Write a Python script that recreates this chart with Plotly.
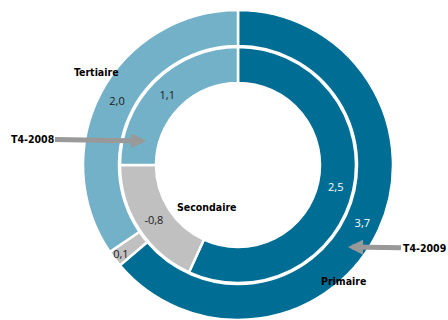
import plotly.graph_objects as go

categories = ["Primaire", "Secondaire", "Tertiaire"]
values_2009 = [3.7, 0.1, 2.0]
values_2008 = [2.5, -0.8, 1.1]
ring_names = ["T4-2009", "T4-2008"]

colors = ["#006e94", "#c0c0c0", "#72b1c8"]
text_colors = ["white", "#1a1a1a", "#1a1a1a"]

W, H = 448, 320


def fmt(v):
    return f"{v:.1f}".replace(".", ",")


def dom(cx, cy, r):
    # cx, cy in pixels from top-left
    return dict(x=[(cx - r) / W, (cx + r) / W], y=[1 - (cy + r) / H, 1 - (cy - r) / H])


cx, cy = 238, 165
R_out, R_in = 155, 118

fig = go.Figure()
fig.add_trace(go.Pie(
    labels=categories, values=[abs(v) for v in values_2009],
    text=[fmt(v) for v in values_2009], textinfo="text",
    textposition="inside", insidetextorientation="horizontal",
    textfont=dict(color=text_colors, size=11, family="Open Sans"),
    marker=dict(colors=colors, line=dict(color="white", width=2.5)),
    sort=False, direction="clockwise", rotation=0,
    hole=119 / R_out, domain=dom(cx, cy, R_out), name=ring_names[0],
    showlegend=False, hoverinfo="label+text",
))
fig.add_trace(go.Pie(
    labels=categories, values=[abs(v) for v in values_2008],
    text=[fmt(v) for v in values_2008], textinfo="text",
    textposition="inside", insidetextorientation="horizontal",
    textfont=dict(color=text_colors, size=11, family="Open Sans"),
    marker=dict(colors=colors, line=dict(color="white", width=2.5)),
    sort=False, direction="clockwise", rotation=0,
    hole=82 / R_in, domain=dom(cx, cy, R_in), name=ring_names[1],
    showlegend=False, hoverinfo="label+text",
))

lab_font = dict(family="DejaVu Sans Condensed, Open Sans", size=10.5, color="black")


def px(x, y):
    return x / W, 1 - y / H


annots = []
for name, (x, y) in zip(categories, [(368, 289), (206, 207), (72, 64)]):
    ax_, ay_ = px(x, y)
    annots.append(dict(x=ax_, y=ay_, xref="paper", yref="paper", text=f"<b>{name}</b>",
                       showarrow=False, font=lab_font))

# ring arrows
tip08 = px(146, 141)
annots.append(dict(x=tip08[0], y=tip08[1], xref="paper", yref="paper", text=f"<b>{ring_names[1]}</b>",
                   showarrow=True, ax=-114, ay=-2, arrowhead=2, arrowsize=0.6, arrowwidth=5,
                   arrowcolor="#999999", font=lab_font, standoff=0))
tip09 = px(348, 247)
annots.append(dict(x=tip09[0], y=tip09[1], xref="paper", yref="paper", text=f"<b>{ring_names[0]}</b>",
                   showarrow=True, ax=76, ay=1, arrowhead=2, arrowsize=0.6, arrowwidth=5,
                   arrowcolor="#999999", font=lab_font, standoff=0))

fig.update_layout(
    width=W, height=H, margin=dict(l=0, r=0, t=0, b=0),
    paper_bgcolor="white", plot_bgcolor="white",
    annotations=annots,
    uniformtext=dict(minsize=11, mode="show"),
)
fig.write_html("out.html")
